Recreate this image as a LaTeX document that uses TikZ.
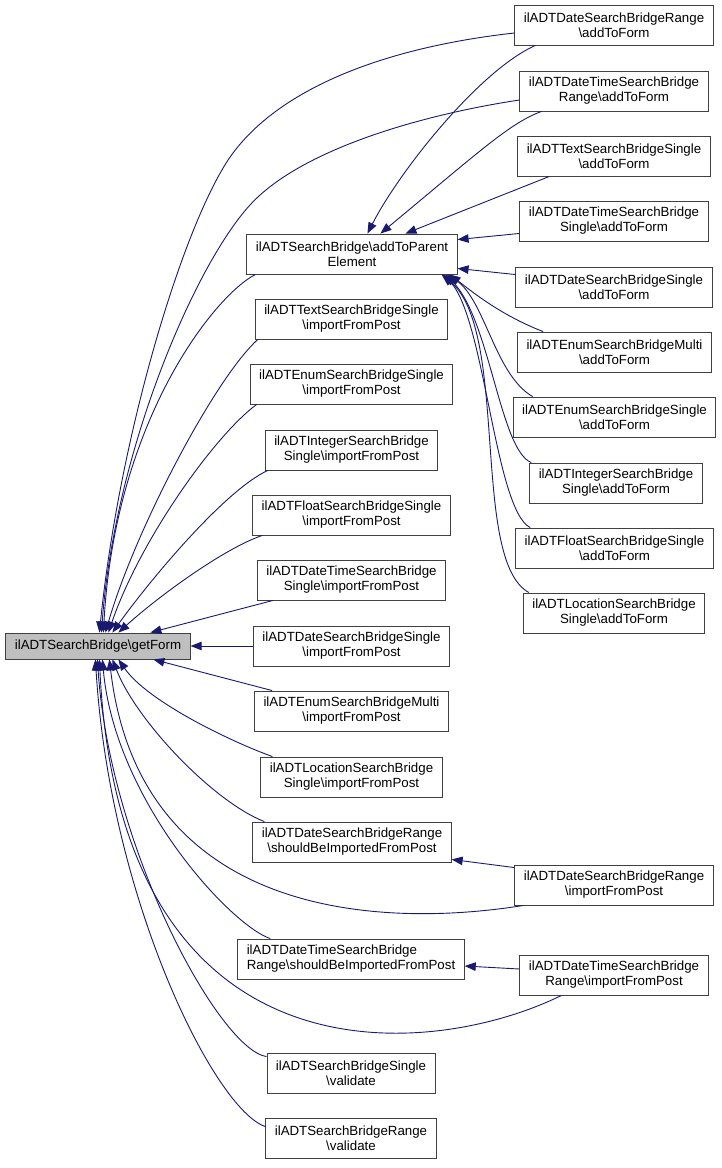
\documentclass[tikz,border=0pt]{standalone}
\usepackage{fontspec}
\setmainfont{Liberation Sans}
\usepackage{tikz}
\usetikzlibrary{arrows.meta}
\definecolor{callblue}{RGB}{25,25,112}
\definecolor{focusgray}{RGB}{191,191,191}
\newcommand{\bsl}{\textbackslash}

\begin{document}
\begin{tikzpicture}[
  x=1pt, y=-1pt,
  font=\fontsize{13.3}{15}\selectfont,
  func/.style={
    rectangle,
    draw=black!75,
    line width=0.9pt,
    minimum height=40pt,
    inner xsep=9pt,
    align=center,
  },
  call/.style={
    draw=callblue,
    line width=0.9pt,
    -{Triangle[length=11pt,width=8.5pt]},
  },
]
\useasboundingbox (0,0) rectangle (721,1168);

% --- focus ---
\node[func, fill=focusgray, minimum height=26pt] (getForm) at (98,646) {ilADTSearchBridge\bsl getForm};

% --- middle column ---
\node[func] (addParent) at (352,254) {ilADTSearchBridge\bsl addToParent\\Element};
\node[func] (textImport) at (351.5,319) {ilADTTextSearchBridgeSingle\\\bsl importFromPost};
\node[func] (enumImport) at (351.5,384) {ilADTEnumSearchBridgeSingle\\\bsl importFromPost};
\node[func] (intImport) at (351.5,450) {ilADTIntegerSearchBridge\\Single\bsl importFromPost};
\node[func] (floatImport) at (351.5,515) {ilADTFloatSearchBridgeSingle\\\bsl importFromPost};
\node[func] (dtSingleImport) at (351.5,580) {ilADTDateTimeSearchBridge\\Single\bsl importFromPost};
\node[func] (dateSingleImport) at (351.5,646) {ilADTDateSearchBridgeSingle\\\bsl importFromPost};
\node[func] (enumMultiImport) at (351.5,711) {ilADTEnumSearchBridgeMulti\\\bsl importFromPost};
\node[func] (locImport) at (351.5,777) {ilADTLocationSearchBridge\\Single\bsl importFromPost};
\node[func] (dateShould) at (352,842) {ilADTDateSearchBridgeRange\\\bsl shouldBeImportedFromPost};
\node[func, align=left] (dtShould) at (351,959) {ilADTDateTimeSearchBridge\\Range\bsl shouldBeImportedFromPost};
\node[func] (singleValidate) at (351,1073) {ilADTSearchBridgeSingle\\\bsl validate};
\node[func] (rangeValidate) at (351,1138) {ilADTSearchBridgeRange\\\bsl validate};

% --- right column ---
\node[func] (dateRangeAdd) at (614,25) {ilADTDateSearchBridgeRange\\\bsl addToForm};
\node[func] (dtRangeAdd) at (614,91) {ilADTDateTimeSearchBridge\\Range\bsl addToForm};
\node[func] (textAdd) at (614,156) {ilADTTextSearchBridgeSingle\\\bsl addToForm};
\node[func] (dtSingleAdd) at (614,221) {ilADTDateTimeSearchBridge\\Single\bsl addToForm};
\node[func] (dateSingleAdd) at (614,287) {ilADTDateSearchBridgeSingle\\\bsl addToForm};
\node[func] (enumMultiAdd) at (614.5,352) {ilADTEnumSearchBridgeMulti\\\bsl addToForm};
\node[func] (enumSingleAdd) at (614.5,417) {ilADTEnumSearchBridgeSingle\\\bsl addToForm};
\node[func] (intAdd) at (616,483) {ilADTIntegerSearchBridge\\Single\bsl addToForm};
\node[func] (floatAdd) at (614.5,548) {ilADTFloatSearchBridgeSingle\\\bsl addToForm};
\node[func] (locAdd) at (614,613) {ilADTLocationSearchBridge\\Single\bsl addToForm};
\node[func] (dateRangeImport) at (614,885) {ilADTDateSearchBridgeRange\\\bsl importFromPost};
\node[func] (dtRangeImport) at (614,975) {ilADTDateTimeSearchBridge\\Range\bsl importFromPost};

% --- calls into getForm, from above ---
\draw[call] ([yshift=-8pt]dateRangeAdd.west) .. controls (380,48) and (280,90) .. (233,153)
  .. controls (186,216) and (120,430) .. ([xshift=94pt]getForm.north west);
\draw[call] ([yshift=-9pt]dtRangeAdd.west) .. controls (420,115) and (300,150) .. (250,205)
  .. controls (195,265) and (115,450) .. ([xshift=96pt]getForm.north west);
\draw[call] ([xshift=9pt]addParent.south west) .. controls (215,295) and (115,420) .. ([xshift=98pt]getForm.north west);
\draw[call] ([xshift=3pt]textImport.south west) .. controls (215,378) and (135,530) .. ([xshift=100pt]getForm.north west);
\draw[call] ([xshift=7pt]enumImport.south west) .. controls (215,435) and (140,540) .. ([xshift=103pt]getForm.north west);
\draw[call] ([xshift=3pt]intImport.south west) .. controls (225,490) and (150,580) .. ([xshift=107pt]getForm.north west);
\draw[call] ([xshift=10pt]floatImport.south west) .. controls (225,548) and (160,595) .. ([xshift=113pt]getForm.north west);
\draw[call] ([xshift=16pt]dtSingleImport.south west) -- ([xshift=145pt]getForm.north west);
\draw[call] (dateSingleImport.west) -- (getForm.east);

% --- calls into getForm, from below ---
\draw[call] ([xshift=18pt]enumMultiImport.north west) -- ([xshift=148pt]getForm.south west);
\draw[call] ([xshift=12pt]locImport.north west) .. controls (232,742) and (148,702) .. ([xshift=113pt]getForm.south west);
\draw[call] ([xshift=12pt]dateShould.north west) .. controls (214,802) and (137,722) .. ([xshift=107pt]getForm.south west);
\draw[call] ([xshift=9pt]dateRangeImport.south west) .. controls (383,928) and (140,920) .. ([xshift=104pt]getForm.south west);
\draw[call] ([xshift=33pt]dtShould.north west) .. controls (230,925) and (115,800) .. ([xshift=97pt]getForm.south west);
\draw[call] ([xshift=42pt]dtRangeImport.south west) .. controls (430,1060) and (120,1090) .. ([xshift=94pt]getForm.south west);
\draw[call] ([yshift=-4pt]singleValidate.north west) .. controls (220,1050) and (110,850) .. ([xshift=92pt]getForm.south west);
\draw[call] ([yshift=-9pt]rangeValidate.north west) .. controls (215,1110) and (110,900) .. ([xshift=90pt]getForm.south west);

% --- calls into addToParentElement ---
\draw[call] ([xshift=21pt]dateRangeAdd.south west) .. controls (480,70) and (400,170) .. ([xshift=121pt]addParent.north west);
\draw[call] ([xshift=22pt]dtRangeAdd.south west) .. controls (510,123) and (480,151) .. ([xshift=134pt]addParent.north west);
\draw[call] ([xshift=32pt]textAdd.south west) -- ([xshift=159pt]addParent.north west);
\draw[call] ([yshift=8pt]dtSingleAdd.south west) -- ([yshift=-6pt]addParent.north east);
\draw[call] ([yshift=-8pt]dateSingleAdd.north west) -- ([yshift=6pt]addParent.south east);
\draw[call] ([xshift=26pt]enumMultiAdd.north west) .. controls (500,315) and (470,290) .. ([xshift=-8pt]addParent.south east);
\draw[call] ([xshift=20pt]enumSingleAdd.north west) .. controls (495,375) and (485,300) .. ([xshift=-10pt]addParent.south east);
\draw[call] ([xshift=2pt]intAdd.north west) .. controls (500,450) and (490,320) .. ([xshift=-12pt]addParent.south east);
\draw[call] ([xshift=15pt]floatAdd.north west) .. controls (495,510) and (485,320) .. ([xshift=-14pt]addParent.south east);
\draw[call] ([xshift=6pt]locAdd.north west) .. controls (470,560) and (510,330) .. ([xshift=-16pt]addParent.south east);

% --- range import -> shouldBeImportedFromPost ---
\draw[call] ([yshift=-3pt]dateRangeImport.north west) -- ([yshift=3pt]dateShould.south east);
\draw[call] ([yshift=6pt]dtRangeImport.west) -- ([yshift=-7pt]dtShould.east);

\end{tikzpicture}
\end{document}
